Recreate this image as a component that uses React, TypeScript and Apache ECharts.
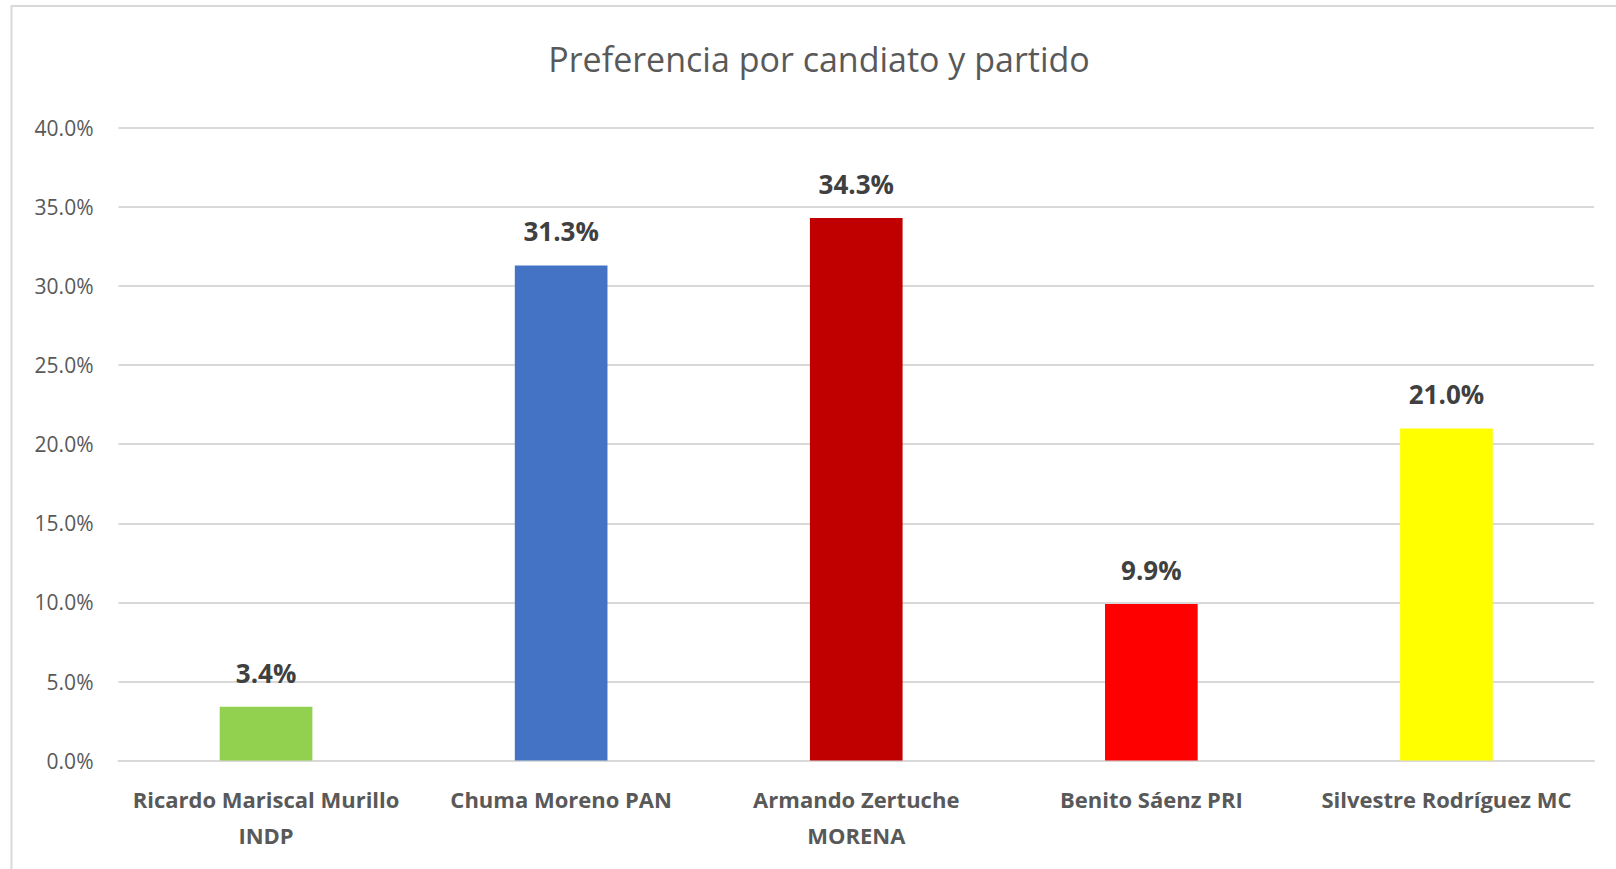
import React, { useEffect, useRef } from "react";
import * as echarts from "echarts";

const TITLE = "Preferencia por candiato y partido";
const categories = [
  "Ricardo Mariscal Murillo\nINDP",
  "Chuma Moreno PAN",
  "Armando Zertuche\nMORENA",
  "Benito Sáenz PRI",
  "Silvestre Rodríguez MC",
];
const values = [3.4, 31.3, 34.3, 9.9, 21.0];
const barColors = ["#92D050", "#4472C4", "#C00000", "#FF0000", "#FFFF00"];
const yMin = 0;
const yMax = 40;
const yStep = 5;

const FONT = "'Open Sans', 'Noto Sans', sans-serif";

export default function App() {
  const ref = useRef<HTMLDivElement>(null);
  useEffect(() => {
    if (!ref.current) return;
    const chart = echarts.init(ref.current, undefined, { renderer: "svg" });
    chart.setOption({
      animation: false,
      backgroundColor: "#ffffff",
      textStyle: { fontFamily: FONT },
      graphic: [
        {
          type: "rect",
          shape: { x: 11.5, y: 6, width: 1700, height: 1000 },
          style: { fill: "none", stroke: "#d9d9d9", lineWidth: 2 },
          silent: true,
        },
        {
          type: "text",
          x: 819,
          y: 59,
          style: {
            text: TITLE,
            fill: "#595959",
            font: `34px ${FONT}`,
            textAlign: "center",
            textVerticalAlign: "middle",
          },
          silent: true,
        },
      ],
      grid: { left: 118.5, right: 22, top: 127.8, bottom: 108.4, containLabel: false },
      xAxis: {
        type: "category",
        data: categories,
        axisLine: { show: true, lineStyle: { color: "#d9d9d9", width: 2 } },
        axisTick: { show: false },
        axisLabel: {
          interval: 0,
          margin: 20,
          color: "#595959",
          fontWeight: "bold",
          fontSize: 22,
          lineHeight: 36,
          fontFamily: FONT,
        },
      },
      yAxis: {
        type: "value",
        min: yMin,
        max: yMax,
        interval: yStep,
        axisLine: { show: false },
        axisTick: { show: false },
        splitLine: { lineStyle: { color: "#d9d9d9", width: 2 } },
        axisLabel: {
          margin: 25,
          color: "#595959",
          fontSize: 21,
          fontFamily: FONT,
          formatter: (v: number) => v.toFixed(1) + "%",
        },
      },
      series: [
        {
          type: "bar",
          barWidth: "31.4%",
          data: values.map((v, i) => ({ value: v, itemStyle: { color: barColors[i] } })),
          label: {
            show: true,
            position: "top",
            distance: 21,
            color: "#404040",
            fontWeight: "bold",
            fontSize: 26,
            lineHeight: 26,
            fontFamily: FONT,
            formatter: (p: any) => Number(p.value).toFixed(1) + "%",
          },
        },
      ],
    });
    return () => chart.dispose();
  }, []);
  return (
    <div
      ref={ref}
      style={{ position: "absolute", left: 0, top: 0, width: 1616, height: 869 }}
    />
  );
}
